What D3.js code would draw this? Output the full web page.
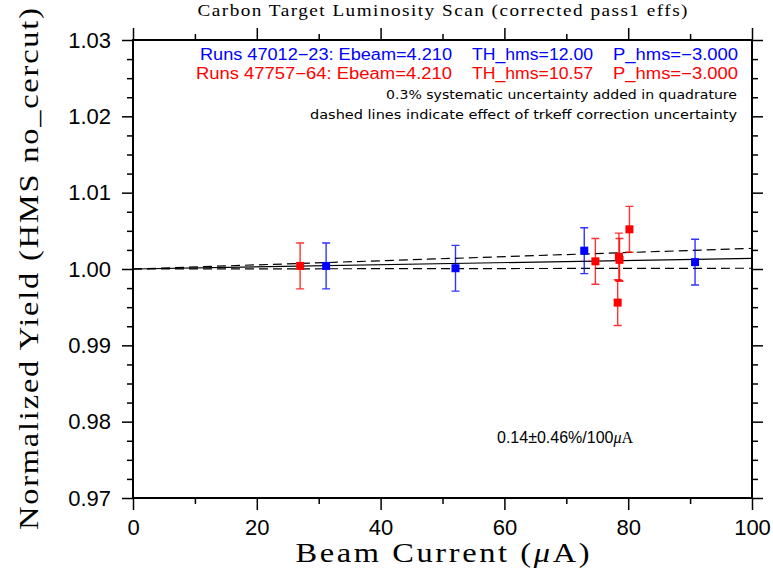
<!DOCTYPE html>
<html>
<head>
<meta charset="utf-8">
<script src="https://cdn.jsdelivr.net/npm/d3@7"></script>
<style>
  body { margin: 0; background: #fff; }
  svg { display: block; }
</style>
</head>
<body>
<svg id="lumi-scan-svg" width="773" height="571"></svg>
<script>
// Run group 47012-23 (blue)
const blueCurrent = [31.2, 52.1, 72.9, 90.8];
const blueYield = [1.0004, 1.0001, 1.0024, 1.0009];
const blueErr = [0.0030, 0.0030, 0.0030, 0.0030];

// Run group 47757-64 (red)
const redCurrent = [27.0, 74.7, 78.3, 78.5, 78.6, 80.2];
const redYield = [1.0004, 1.0010, 0.9956, 1.0016, 1.0012, 1.0052];
const redErr = [0.0030, 0.0030, 0.0030, 0.0031, 0.0028, 0.0030];

// Linear fit and trkeff uncertainty band
const fitCurrent = [0, 100];
const fitCentral = [1.0, 1.0014];
const fitUpper = [1.0, 1.0027];
const fitLower = [1.0, 1.0001];

const xTicks = [0, 20, 40, 60, 80, 100];
const xMinorTicks = [10, 30, 50, 70, 90];
const yTicks = [0.97, 0.98, 0.99, 1.00, 1.01, 1.02, 1.03];
const yMinorTicks = d3.range(0, 25).map(i => 0.97 + i * 0.0025).filter((d, i) => i % 4 != 0);

const legendLines = [
	{ color: "#0000ff", parts: ["Runs 47012\u221223: Ebeam=4.210", "TH_hms=12.00", "P_hms=\u22123.000"] },
	{ color: "#ff0000", parts: ["Runs 47757\u221264: Ebeam=4.210", "TH_hms=10.57", "P_hms=\u22123.000"] }
];
const noteLines = [
	"0.3% systematic uncertainty added in quadrature",
	"dashed lines indicate effect of trkeff correction uncertainty"
];

const padding = { top: 40, right: 21, bottom: 73, left: 133 };
const width = 773, height = 571;
const serifFont = "'Liberation Serif', 'Times New Roman', serif";
const stretch = 1.2; // widen serif glyphs a bit, like the plotting font

const svg = d3.select("#lumi-scan-svg");

const xScale = d3.scaleLinear()
	.domain([0, 100])
	.range([padding.left, width - padding.right]);

const yScale = d3.scaleLinear()
	.domain([0.97, 1.03])
	.range([height - padding.bottom, padding.top]);

const x0 = xScale.range()[0], x1 = xScale.range()[1];
const y0 = yScale.range()[1], y1 = yScale.range()[0];

function styleAxis(g) {
	g.select(".domain").remove();
	g.selectAll("line")
		.style("stroke", "#000")
		.style("stroke-width", "1.5px");
	g.selectAll("text")
		.style("font-family", "'Liberation Sans', Arial, sans-serif")
		.style("font-size", "22px")
		.style("fill", "#000");
}

// major + minor ticks on all four sides
svg.append("g").attr("transform", "translate(0," + y1 + ")")
	.call(d3.axisBottom(xScale).tickValues(xTicks).tickSize(12).tickPadding(9.5).tickFormat(d3.format("d")))
	.call(styleAxis);
svg.append("g").attr("transform", "translate(0," + y1 + ")")
	.call(d3.axisBottom(xScale).tickValues(xMinorTicks).tickSize(6).tickFormat(""))
	.call(styleAxis);
svg.append("g").attr("transform", "translate(0," + y0 + ")")
	.call(d3.axisTop(xScale).tickValues(xTicks).tickSize(12).tickFormat(""))
	.call(styleAxis);
svg.append("g").attr("transform", "translate(0," + y0 + ")")
	.call(d3.axisTop(xScale).tickValues(xMinorTicks).tickSize(6).tickFormat(""))
	.call(styleAxis);

svg.append("g").attr("transform", "translate(" + x0 + ",0)")
	.call(d3.axisLeft(yScale).tickValues(yTicks).tickSize(11).tickPadding(11).tickFormat(d3.format(".2f")))
	.call(styleAxis);
svg.append("g").attr("transform", "translate(" + x0 + ",0)")
	.call(d3.axisLeft(yScale).tickValues(yMinorTicks).tickSize(6).tickFormat(""))
	.call(styleAxis);
svg.append("g").attr("transform", "translate(" + x1 + ",0)")
	.call(d3.axisRight(yScale).tickValues(yTicks).tickSize(11).tickFormat(""))
	.call(styleAxis);
svg.append("g").attr("transform", "translate(" + x1 + ",0)")
	.call(d3.axisRight(yScale).tickValues(yMinorTicks).tickSize(6).tickFormat(""))
	.call(styleAxis);

// frame
svg.append("rect")
	.attr("x", x0)
	.attr("y", y0)
	.attr("width", x1 - x0)
	.attr("height", y1 - y0)
	.style("fill", "none")
	.style("stroke", "#000")
	.style("stroke-width", "2px");

// fit lines
const line = d3.line()
	.x((d, i) => xScale(fitCurrent[i]))
	.y(d => yScale(d));

svg.append("path")
	.datum(fitUpper)
	.attr("d", line)
	.style("fill", "none")
	.style("stroke", "#000")
	.style("stroke-width", "1.2px")
	.style("stroke-dasharray", "9,5");
svg.append("path")
	.datum(fitLower)
	.attr("d", line)
	.style("fill", "none")
	.style("stroke", "#000")
	.style("stroke-width", "1.2px")
	.style("stroke-dasharray", "9,5");
svg.append("path")
	.datum(fitCentral)
	.attr("d", line)
	.style("fill", "none")
	.style("stroke", "#000")
	.style("stroke-width", "1.2px");

// data points with error bars
function drawSeries(xs, ys, errs, color, cls) {
	const pts = xs.map((x, i) => ({ x: x, y: ys[i], e: errs[i] }));
	const g = svg.append("g").attr("class", cls);
	const capW = 4;

	g.selectAll(".err")
		.data(pts)
		.enter()
		.append("path")
		.attr("class", "err")
		.attr("d", d => {
			const cx = xScale(d.x), top = yScale(d.y + d.e), bot = yScale(d.y - d.e);
			return "M" + cx + "," + top + "V" + bot +
				"M" + (cx - capW) + "," + top + "H" + (cx + capW) +
				"M" + (cx - capW) + "," + bot + "H" + (cx + capW);
		})
		.style("fill", "none")
		.style("stroke", color)
		.style("stroke-width", "1.4px")
		.style("opacity", 0.8);

	g.selectAll(".pt")
		.data(pts)
		.enter()
		.append("rect")
		.attr("class", "pt")
		.attr("x", d => xScale(d.x) - 4)
		.attr("y", d => yScale(d.y) - 4)
		.attr("width", 8)
		.attr("height", 8)
		.style("fill", color);
}

drawSeries(redCurrent, redYield, redErr, "#ff0000", "red-runs");
drawSeries(blueCurrent, blueYield, blueErr, "#0000ff", "blue-runs");

// title
svg.append("g")
	.attr("transform", "translate(" + (x0 + x1) / 2 + ",16) scale(" + stretch + ",1)")
	.append("text")
	.attr("text-anchor", "middle")
	.attr("textLength", 490 / stretch)
	.attr("lengthAdjust", "spacing")
	.style("font-family", serifFont)
	.style("font-size", "16px")
	.text("Carbon Target Luminosity Scan (corrected pass1 effs)");

// legend text, right-aligned segments
const partEnds = [452, 593, 738];
const partWidths = [[252, 121, 125], [256, 121, 125]];
legendLines.forEach((ln, j) => {
	ln.parts.forEach((p, k) => {
		svg.append("text")
			.attr("x", partEnds[k] - partWidths[j][k])
			.attr("y", 60 + j * 19)
			.attr("textLength", partWidths[j][k])
			.attr("lengthAdjust", "spacingAndGlyphs")
			.style("font-family", "'Liberation Sans', Arial, sans-serif")
			.style("font-size", "16px")
			.style("fill", ln.color)
			.text(p);
	});
});

const noteWidths = [351, 427];
noteLines.forEach((t, j) => {
	svg.append("text")
		.attr("x", 737 - noteWidths[j])
		.attr("y", 99 + j * 20)
		.attr("textLength", noteWidths[j])
		.attr("lengthAdjust", "spacingAndGlyphs")
		.style("font-family", "'DejaVu Sans', sans-serif")
		.style("font-size", "12.5px")
		.style("fill", "#000")
		.text(t);
});

// slope annotation
const slopeText = svg.append("text")
	.attr("x", 497)
	.attr("y", 443)
	.style("font-family", "'Liberation Sans', Arial, sans-serif")
	.style("font-size", "16px")
	.style("fill", "#000");
slopeText.append("tspan").text("0.14\u00b10.46%/100");
slopeText.append("tspan").style("font-style", "italic").style("font-family", serifFont).text("\u03bc");
slopeText.append("tspan").style("font-family", serifFont).text("A");

// axis titles
const xTitle = svg.append("g")
	.attr("transform", "translate(" + (x0 + x1) / 2 + ",562) scale(" + stretch + ",1)")
	.append("text")
	.attr("text-anchor", "middle")
	.attr("textLength", 294 / stretch)
	.attr("lengthAdjust", "spacing")
	.style("font-family", serifFont)
	.style("font-size", "27px");
xTitle.append("tspan").text("Beam Current (");
xTitle.append("tspan").style("font-style", "italic").text("\u03bc");
xTitle.append("tspan").text("A)");

svg.append("g")
	.attr("transform", "translate(38," + (y0 + y1) / 2 + ") rotate(-90) scale(" + stretch + ",1)")
	.append("text")
	.attr("text-anchor", "middle")
	.attr("textLength", 522 / stretch)
	.attr("lengthAdjust", "spacing")
	.style("font-family", serifFont)
	.style("font-size", "27px")
	.text("Normalized Yield (HMS no_cercut)");
</script>
</body>
</html>
